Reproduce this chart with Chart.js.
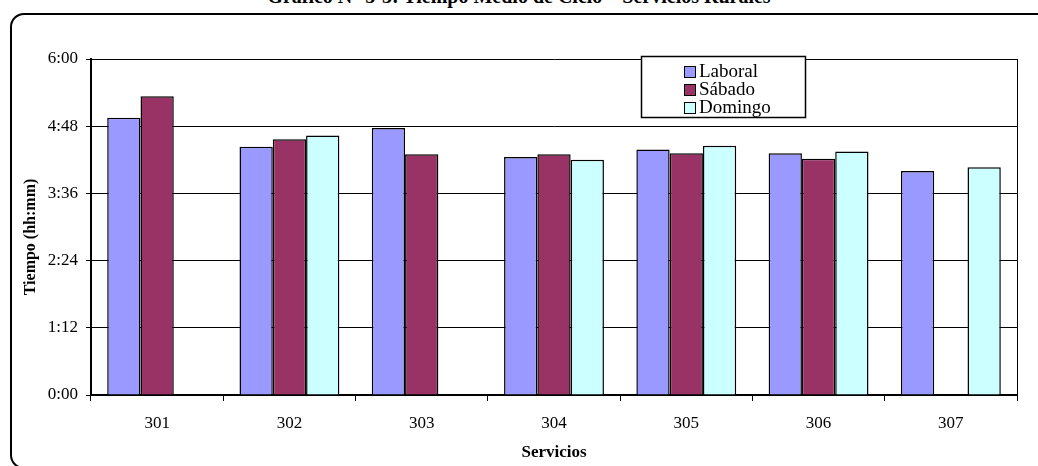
<!DOCTYPE html>
<html>
<head>
<meta charset="utf-8">
<script src="https://cdn.jsdelivr.net/npm/chart.js@4"></script>
<style>
  html, body { margin: 0; padding: 0; background: #fff; overflow: hidden; }
  #wrap { position: relative; width: 1038px; height: 466px; overflow: hidden; }
  #frame { position: absolute; left: 10px; top: 13px; width: 1100px; height: 452px;
           border: 2px solid #000; border-radius: 14px; }
  #title { position: absolute; left: 0; top: -14px; width: 1038px; text-align: center;
           font: bold 20px/20px "Liberation Serif", serif; color: #000; white-space: nowrap; }
  #chart { position: absolute; left: 0; top: 0; }
</style>
</head>
<body>
<div id="wrap">
  <div id="frame"></div>
  <div id="title">Gráfico N° 5-3: Tiempo Medio de Ciclo – Servicios Rurales</div>
  <canvas id="chart" width="1038" height="466"></canvas>
</div>
<script>
const servicios = ['301', '302', '303', '304', '305', '306', '307'];
// tiempos en hh:mm, null = sin servicio ese día
const laboral = ['4:57', '4:26', '4:46', '4:15', '4:23', '4:19', '4:00'];
const sabado  = ['5:20', '4:34', '4:18', '4:18', '4:19', '4:13', null];
const domingo = [null,   '4:38', null,   '4:12', '4:27', '4:21', '4:04'];
const yTicks = [0, 72, 144, 216, 288, 360]; // minutos

const toMinutes = s => {
    if (s === null) return null;
    const [h, m] = s.split(':').map(Number);
    return h * 60 + m;
};
const toHHMM = v => Math.floor(v / 60) + ':' + String(Math.round(v % 60)).padStart(2, '0');

const serif = '"Liberation Serif", "Times New Roman", serif';

// recuadro del área, título del eje y y leyenda tipo Excel
const plotFrame = {
    id: 'plotFrame',
    afterDraw(chart) {
        const {ctx, chartArea: a} = chart;
        ctx.save();
        ctx.strokeStyle = '#000';
        ctx.lineWidth = 1;
        ctx.beginPath();
        ctx.moveTo(a.right + 0.5, a.top);
        ctx.lineTo(a.right + 0.5, a.bottom);
        ctx.stroke();

        // título eje y
        ctx.save();
        ctx.translate(31, 237);
        ctx.rotate(-Math.PI / 2);
        ctx.font = 'bold 16px ' + serif;
        ctx.fillStyle = '#000';
        ctx.textAlign = 'center';
        ctx.textBaseline = 'middle';
        ctx.fillText('Tiempo (hh:mm)', 0, 0);
        ctx.restore();

        // leyenda
        const x = 641, y = 56, w = 164, h = 61;
        ctx.fillStyle = '#fff';
        ctx.fillRect(x, y, w, h);
        ctx.lineWidth = 1.5;
        ctx.strokeRect(x + 0.5, y + 0.5, w, h);
        ctx.font = '19px ' + serif;
        ctx.textBaseline = 'middle';
        chart.data.datasets.forEach((ds, i) => {
            const cy = 71.5 + i * 18;
            ctx.fillStyle = ds.backgroundColor;
            ctx.fillRect(684, cy - 5.5, 11, 11);
            ctx.lineWidth = 1;
            ctx.strokeStyle = '#000';
            ctx.strokeRect(684.5, cy - 5, 11, 11);
            ctx.fillStyle = '#000';
            ctx.fillText(ds.label, 699, cy + 1);
        });
        ctx.restore();
    }
};

const mkSet = (label, values, color) => ({
    label: label,
    data: values.map(toMinutes),
    backgroundColor: color,
    borderColor: '#000',
    borderWidth: 1.5,
    borderSkipped: 'bottom',
    categoryPercentage: 0.755,
    barPercentage: 1
});

new Chart(document.getElementById('chart'), {
    type: 'bar',
    data: {
        labels: servicios,
        datasets: [
            mkSet('Laboral', laboral, '#9999FF'),
            mkSet('Sábado', sabado, '#993366'),
            mkSet('Domingo', domingo, '#CCFFFF')
        ]
    },
    options: {
        responsive: false,
        animation: false,
        layout: {padding: {left: 0, top: 59, right: 21, bottom: 0}},
        plugins: {legend: {display: false}, tooltip: {enabled: false}},
        scales: {
            x: {
                afterFit: s => { s.height = 71; },
                grid: {drawOnChartArea: false, color: '#000', tickLength: 6, lineWidth: 1},
                border: {color: '#000', width: 2},
                ticks: {color: '#000', font: {family: serif, size: 17}, padding: 12},
                title: {display: true, text: 'Servicios', color: '#000',
                        font: {family: serif, size: 17, weight: 'bold'}, padding: {top: 0, bottom: 3}}
            },
            y: {
                min: 0,
                max: 360,
                afterFit: s => { s.width = 91; },
                afterBuildTicks: s => { s.ticks = yTicks.map(v => ({value: v})); },
                grid: {color: '#000', tickLength: 5, lineWidth: 1},
                border: {color: '#000', width: 2},
                ticks: {color: '#000', font: {family: serif, size: 17}, padding: 8,
                        callback: v => toHHMM(v)}
            }
        }
    },
    plugins: [plotFrame]
});
</script>
</body>
</html>
